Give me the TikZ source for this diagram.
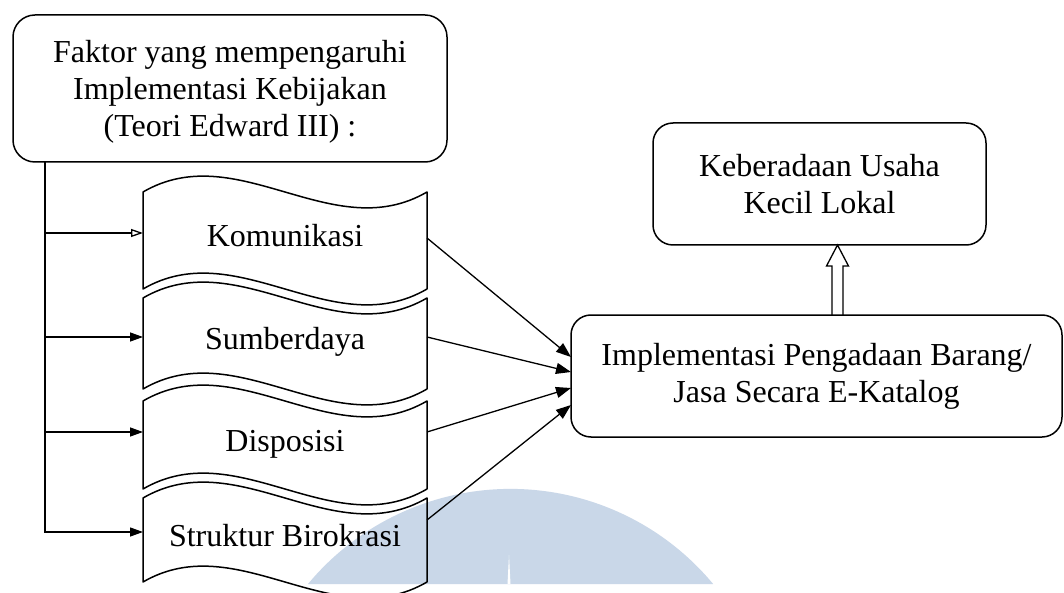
\documentclass[tikz,border=0pt]{standalone}
\usepackage{fontspec}
\setmainfont{Liberation Serif}
\usetikzlibrary{arrows.meta,calc}
\definecolor{wmblue}{RGB}{201,215,232}
\begin{document}
\begin{tikzpicture}[x=1pt,y=-1pt,
  txt/.style={font=\fontsize{32}{37}\selectfont, align=center},
  rbox/.style={txt, draw, line width=1.5pt, rounded corners=22pt, inner sep=0pt, outer sep=0pt},
  wnode/.style={txt, inner sep=0pt, outer sep=0pt, text height=21pt, text depth=9pt, minimum width=284pt},
  wavy/.style={draw, line width=1.5pt, line join=round},
  larr/.style={line width=1.3pt, -{Triangle[length=13pt,width=9pt]}},
  larro/.style={line width=1.3pt, -{Triangle[open,length=12pt,width=8pt,line width=1.3pt]}},
  rarr/.style={line width=1.3pt, -{Triangle[length=15pt,width=11pt]}},
  blockarr/.style={draw, line width=1.3pt, line join=miter}
]
\useasboundingbox (0,0) rectangle (1064,593);
\fill[white] (0,0) rectangle (1064,593);
% watermark
\fill[wmblue] (308,584) arc[start angle=219.7, end angle=320.3, radius=263.3] -- cycle;
\fill[white] (507.5,584) -- (509,555) -- (510.5,584) -- cycle;

\newcommand\wavedraw[1]{%
  \draw[wavy] (#1.north west)
    .. controls ($(#1.north west)!1/3!(#1.north east)+(0,-55)$) and ($(#1.north west)!2/3!(#1.north east)+(0,55)$) .. (#1.north east)
    -- (#1.south east)
    .. controls ($(#1.south west)!2/3!(#1.south east)+(0,55)$) and ($(#1.south west)!1/3!(#1.south east)+(0,-55)$) .. (#1.south west)
    -- cycle;}

% top-left box
\node[rbox, minimum width=434pt, minimum height=147pt] (f) at (230,88.5)
  {\raisebox{-3pt}[\height][\depth]{\parbox{420pt}{\centering Faktor yang mempengaruhi\\Implementasi Kebijakan\\(Teori Edward III) :}}};

% wave shapes
\node[wnode, minimum height=97pt] (k) at (285,240.5) {Komunikasi};
\node[wnode, minimum height=91pt] (s) at (285,343.5) {Sumberdaya};
\node[wnode, minimum height=88pt] (d) at (285,445) {Disposisi};
\node[wnode, minimum height=84pt] (b) at (285,540) {Struktur Birokrasi};
\wavedraw{k}
\wavedraw{s}
\wavedraw{d}
\wavedraw{b}

% right boxes
\node[rbox, minimum width=333pt, minimum height=122pt, rounded corners=20pt] (kb) at (819.5,184)
  {Keberadaan Usaha\\Kecil Lokal};
\node[rbox, minimum width=491pt, minimum height=122pt, rounded corners=20pt] (i) at (816.5,376)
  {Implementasi Pengadaan Barang/\\Jasa Secara E-Katalog};

% trunk and left arrows
\coordinate (t) at ([xshift=32pt]f.south west);
\draw[larro] (t) |- ([yshift=7.5pt]k.west);
\draw[larr] (t) |- ([yshift=6.5pt]s.west);
\draw[larr] (t) |- ([yshift=13pt]d.west);
\draw[larr] (t) |- ([yshift=8pt]b.west);

% converging arrows
\draw[rarr] ([yshift=2.5pt]k.east) -- ([yshift=19pt]i.west);
\draw[rarr] ([yshift=6.5pt]s.east) -- ([yshift=4pt]i.west);
\draw[rarr] ([yshift=13pt]d.east) -- ([yshift=-12pt]i.west);
\draw[rarr] ([yshift=20pt]b.east) -- ([yshift=-29pt]i.west);

% block (double) arrow up
\coordinate (ua) at ([xshift=21pt]i.north);
\coordinate (uc) at (ua |- kb.south);
\draw[blockarr] ($(ua)+(-5.5,0)$) -- ($(uc)+(-5.5,21)$) -- ($(uc)+(-11,21)$) -- (uc)
  -- ($(uc)+(11,21)$) -- ($(uc)+(5.5,21)$) -- ($(ua)+(5.5,0)$);
\end{tikzpicture}
\end{document}
